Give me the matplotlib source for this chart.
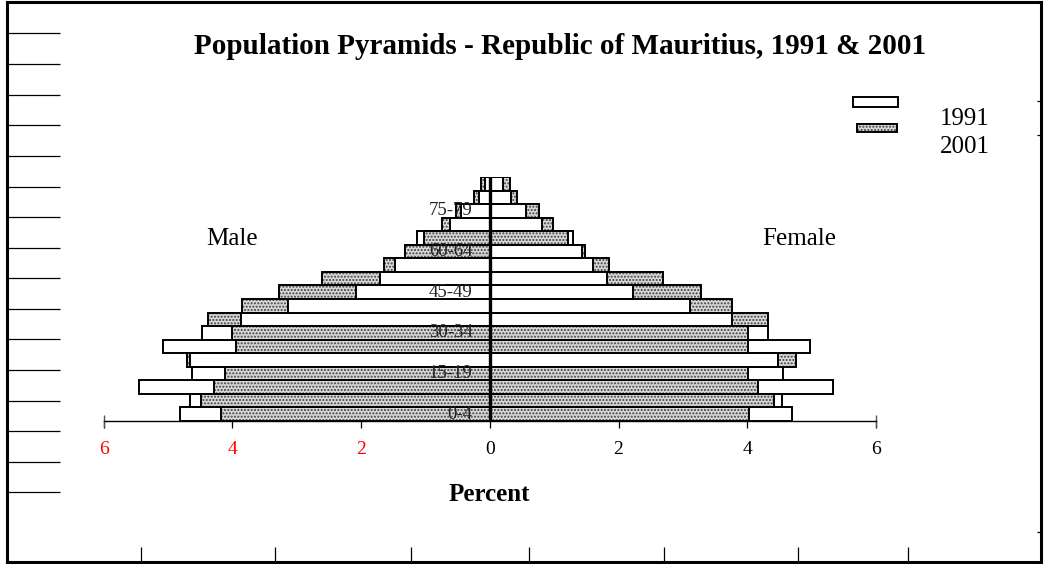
import matplotlib
matplotlib.use("Agg")
import matplotlib.pyplot as plt
from matplotlib.patches import Rectangle
import numpy as np

plt.rcParams['font.family'] = ['Liberation Serif', 'DejaVu Serif']
plt.rcParams['hatch.linewidth'] = 1.0

# ---------------- data ----------------
ages = ['0-4', '5-9', '10-14', '15-19', '20-24', '25-29', '30-34', '35-39',
        '40-44', '45-49', '50-54', '55-59', '60-64', '65-69', '70-74',
        '75-79', '80-84', '85+']
male_1991 = [4.81, 4.65, 5.45, 4.63, 4.65, 5.08, 4.47, 3.87, 3.13, 2.08,
             1.70, 1.47, 1.31, 1.13, 0.61, 0.45, 0.17, 0.07]
male_2001 = [4.17, 4.48, 4.28, 4.11, 4.71, 3.94, 4.00, 4.38, 3.85, 3.28,
             2.61, 1.64, 1.31, 1.02, 0.74, 0.53, 0.24, 0.13]
female_1991 = [4.69, 4.54, 5.33, 4.56, 4.48, 4.97, 4.33, 3.77, 3.11, 2.23,
               1.82, 1.60, 1.43, 1.29, 0.81, 0.57, 0.33, 0.21]
female_2001 = [4.03, 4.41, 4.17, 4.01, 4.75, 4.01, 4.01, 4.33, 3.77, 3.28,
               2.69, 1.86, 1.48, 1.22, 0.98, 0.76, 0.43, 0.31]
xticks = [-6, -4, -2, 0, 2, 4, 6]
xticklabels = ['6', '4', '2', '0', '2', '4', '6']
years = ['1991', '2001']

W, H = 1044, 564
fig = plt.figure(figsize=(W / 100, H / 100), dpi=100)

# ---------------- outer frame with odd ticks ----------------
ax0 = fig.add_axes([7 / W, 2 / H, (1041 - 7) / W, (562 - 2) / H])
ax0.set_xlim(7, 1041)
ax0.set_ylim(562, 2)
for s in ax0.spines.values():
    s.set_linewidth(2.2)
ax0.set_yticks([33.3, 64, 95, 125.3, 156, 186.7, 217.3, 247.7, 278.3, 309,
                339.3, 370, 400.7, 431.3, 462, 492.3])
ax0.set_xticks([141, 275, 411, 529, 664, 798, 908])
ax0.tick_params(axis='y', direction='in', length=38, width=0.9, labelleft=False,
                left=True, right=False)
ax0.tick_params(axis='x', direction='in', length=10.5, width=0.9, labelbottom=False)
ax0.patch.set_alpha(0)
axr = ax0.secondary_yaxis('right')
axr.set_yticks([101, 135, 532])
axr.tick_params(direction='in', length=3, width=0.9, labelright=False)
axr.spines['right'].set_visible(False)

# ---------------- pyramid axes ----------------
x0px, x1px = 103.5, 876
ytop, ybot = 177, 421
ax = fig.add_axes([x0px / W, (H - ybot) / H, (x1px - x0px) / W, (ybot - ytop) / H])
ax.set_xlim(-6, 6)
n = len(ages)
y = np.arange(1, n + 1)
ax.set_ylim(0.5, n + 0.5)
ax.patch.set_alpha(0)
for k in ['top', 'left', 'right']:
    ax.spines[k].set_visible(False)
ax.spines['bottom'].set_linewidth(1.0)
ax.set_yticks([])
ax.set_xticks(xticks)
ax.set_xticklabels(xticklabels, fontsize=14)
for lab, v in zip(ax.get_xticklabels(), xticks):
    lab.set_color('red' if v < 0 else 'black')
ax.tick_params(axis='x', direction='out', length=5, width=0.9, pad=9.5)
ax.vlines([-6, 6], 0.5 - 0.45, 0.5 + 0.45, color='#555555', lw=1.0, clip_on=False)

edge_lw = 1.4
gray_fc = '#d8d8d8'
hatch_col = '#404040'


def draw_side(v91, v01, sign):
    v91 = np.asarray(v91)
    v01 = np.asarray(v01)
    # the shorter bar of each row is drawn on top
    z01 = np.where(v01 <= v91, 3.0, 2.0)
    z91 = np.where(v01 <= v91, 2.0, 3.0)
    b91 = ax.barh(y, sign * v91, height=1.0, color='white', edgecolor='black',
                  linewidth=edge_lw)
    h01 = ax.barh(y, sign * v01, height=1.0, color=gray_fc, edgecolor=hatch_col,
                  linewidth=0, hatch='.....')
    o01 = ax.barh(y, sign * v01, height=1.0, color='none', edgecolor='black',
                  linewidth=edge_lw)
    for p, z in zip(b91.patches, z91):
        p.set_zorder(z)
    for p, z in zip(h01.patches, z01):
        p.set_zorder(z)
    for p, z in zip(o01.patches, z01):
        p.set_zorder(z + 0.1)


draw_side(male_1991, male_2001, -1)
draw_side(female_1991, female_2001, 1)

ax.axvline(0, color='black', lw=2.4, zorder=5)

for i, a in enumerate(ages):
    if i % 3 == 0:
        ax.text(-0.27, y[i], a, ha='right', va='center', fontsize=13.5,
                color='#222222', zorder=6)

ax.text(-4.0, 13.9, 'Male', ha='center', va='center', fontsize=18)
ax.text(4.8, 13.9, 'Female', ha='center', va='center', fontsize=18)
ax.set_xlabel('Percent', fontsize=18, fontweight='bold', labelpad=18)

# ---------------- title ----------------
fig.text(560 / W, 1 - 47 / H,
         'Population Pyramids - Republic of Mauritius, 1991 & 2001',
         ha='center', va='center', fontsize=21, fontweight='bold')

# ---------------- legend ----------------
fig.patches.append(Rectangle((853 / W, 1 - 107 / H), 45 / W, 10 / H,
                             transform=fig.transFigure, facecolor='white',
                             edgecolor='black', linewidth=edge_lw))
fig.patches.append(Rectangle((857 / W, 1 - 132 / H), 40 / W, 8 / H,
                             transform=fig.transFigure, facecolor=gray_fc,
                             edgecolor=hatch_col, linewidth=0, hatch='.....'))
fig.patches.append(Rectangle((857 / W, 1 - 132 / H), 40 / W, 8 / H,
                             transform=fig.transFigure, facecolor='none',
                             edgecolor='black', linewidth=edge_lw))
fig.text(940 / W, 1 - 119 / H, years[0], ha='left', va='center', fontsize=18)
fig.text(940 / W, 1 - 147 / H, years[1], ha='left', va='center', fontsize=18)

fig.savefig('out.png', dpi=100)
